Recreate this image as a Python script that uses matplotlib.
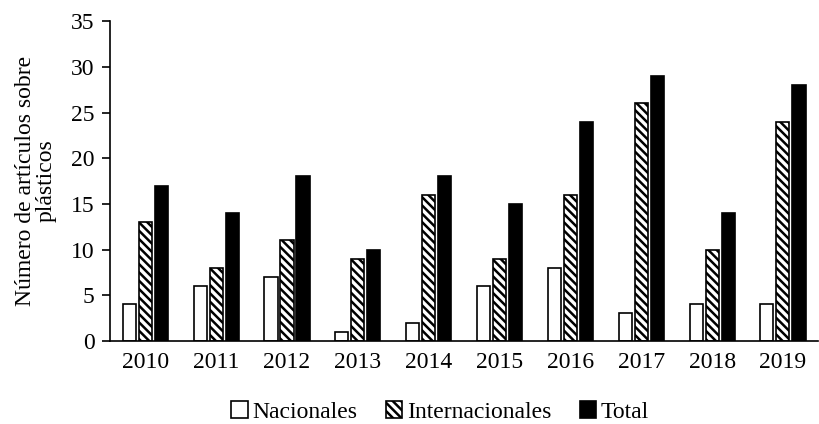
import numpy as np
import matplotlib.pyplot as plt

plt.rcParams['font.family'] = ['Liberation Serif', 'DejaVu Serif']
plt.rcParams['hatch.linewidth'] = 1.8

years = ['2010', '2011', '2012', '2013', '2014', '2015', '2016', '2017', '2018', '2019']
nacionales = [4, 6, 7, 1, 2, 6, 8, 3, 4, 4]
internacionales = [13, 8, 11, 9, 16, 9, 16, 26, 10, 24]
total = [17, 14, 18, 10, 18, 15, 24, 29, 14, 28]

fs = 17
fig = plt.figure(figsize=(8.2, 4.24), dpi=100)
ax = fig.add_axes([0.134, 0.196, 0.864, 0.754])

x = np.arange(len(years))
w = 0.185
step = 0.226
ax.bar(x - step, nacionales, w, color='white', edgecolor='black', linewidth=1.2, label='Nacionales')
ax.bar(x, internacionales, w, color='white', edgecolor='black', linewidth=1.2, hatch='\\\\\\\\', label='Internacionales')
ax.bar(x + step, total, w, color='black', edgecolor='black', linewidth=1.2, label='Total')

ax.set_xlim(-0.5, len(years) - 0.5)
ax.set_ylim(0, 35)
ax.set_yticks(range(0, 36, 5))
ax.set_xticks(x)
ax.set_xticklabels(years)
ax.tick_params(axis='x', length=0, pad=8, labelsize=fs)
ax.tick_params(axis='y', length=6, width=1.2, pad=5, labelsize=fs)
for s in ['top', 'right']:
    ax.spines[s].set_visible(False)
ax.spines['left'].set_linewidth(1.2)
ax.spines['bottom'].set_linewidth(1.2)
ax.set_ylabel('Número de artículos sobre\nplásticos', fontsize=fs, linespacing=1.0, labelpad=10)

ax.legend(loc='lower center', bbox_to_anchor=(0.466, -0.30), ncol=3, frameon=False,
          fontsize=fs, handlelength=0.7, handleheight=0.7, handletextpad=0.2, columnspacing=1.2,
          borderpad=0.1)

fig.savefig('out.png', dpi=100)
